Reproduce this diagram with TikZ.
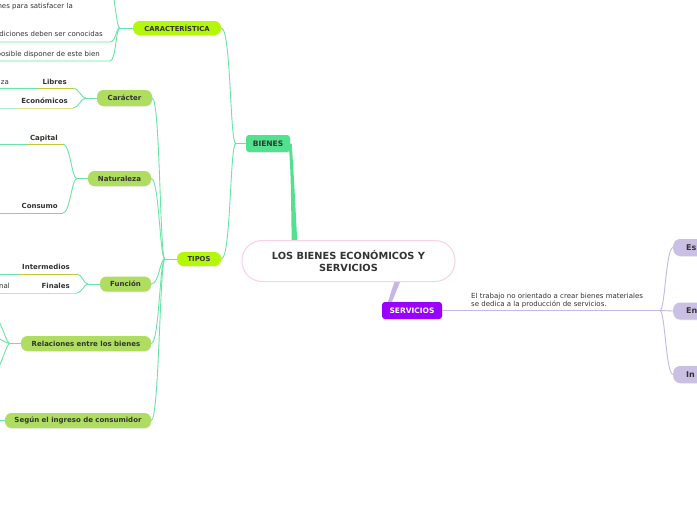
\documentclass[tikz,border=0pt]{standalone}
\usepackage{fontspec}
\setmainfont{DejaVu Sans}
\usetikzlibrary{calc,shadows}
\definecolor{txt}{HTML}{333333}
\definecolor{bgreen}{HTML}{52E28F}
\definecolor{lnk}{HTML}{6AE6A4}
\definecolor{lnklt}{HTML}{A8F0CC}
\definecolor{lime}{HTML}{B4F70A}
\definecolor{leaf}{HTML}{AEDD5F}
\definecolor{olive}{HTML}{C2C93A}
\definecolor{olivelt}{HTML}{D8E088}
\definecolor{purp}{HTML}{9A00FF}
\definecolor{lav}{HTML}{C6B8E6}
\definecolor{lavnode}{HTML}{C9C0E4}
\definecolor{pinkb}{HTML}{FAD0E3}
\tikzset{
  box/.style={rounded corners=4pt, inner sep=0pt, text=txt,
    font=\bfseries\fontsize{7}{8}\selectfont,
    drop shadow={opacity=0.12, shadow xshift=0.6pt, shadow yshift=-0.8pt}},
  pill/.style={box, rounded corners=6.5pt, fill=lime},
  leafbox/.style={box, rounded corners=6.5pt, fill=leaf},
  snode/.style={box, rounded corners=7pt, fill=lavnode, font=\bfseries\fontsize{8}{9}\selectfont},
  lbl/.style={inner sep=0pt, text=txt, font=\bfseries\fontsize{7}{8}\selectfont, anchor=base east},
  itm/.style={inner sep=0pt, text=txt, font=\fontsize{7}{7.9}\selectfont, anchor=base east},
  lnkline/.style={draw=lnk, line width=0.9pt},
  lnkltline/.style={draw=lnklt, line width=0.9pt},
  oline/.style={draw=olive, line width=0.9pt},
  oltline/.style={draw=olivelt, line width=0.9pt},
  lavline/.style={draw=lav, line width=0.9pt},
}
\begin{document}
\begin{tikzpicture}[x=1pt,y=-1pt]
\useasboundingbox (0,0) rectangle (697,520);
\fill[white] (0,0) rectangle (697,520);

% main nodes
\node[box, fill=bgreen, rounded corners=3pt, minimum width=44pt, minimum height=17pt, font=\bfseries\fontsize{7.5}{8}\selectfont] (bienes) at (268,143.5) {BIENES};
\node[box, fill=purp, text=white, rounded corners=3pt, minimum width=60pt, minimum height=17pt, font=\bfseries\fontsize{7.5}{8}\selectfont] (servicios) at (412,310.5) {SERVICIOS};

% thick connectors to title (drawn before the title)
\fill[bgreen] ($(bienes.east)+(-1.5,0)$) -- ($(bienes.east)+(1.5,0)$) .. controls ($(bienes.east)+(3.5,30)$) .. ($(bienes.east)+(7,97)$) -- ($(bienes.east)+(1.5,97)$) .. controls ($(bienes.east)+(0.5,30)$) .. cycle;
\fill[lav] ($(servicios.north)+(-24,0)$) -- ($(servicios.north)+(-20,0)$) -- ($(servicios.north)+(-11,-22)$) -- ($(servicios.north)+(-17,-22)$) -- cycle;

\node[draw=pinkb, line width=1pt, fill=white, rounded corners=20pt, minimum width=213pt, minimum height=41pt, inner sep=0pt, align=center, text=txt, font=\bfseries\fontsize{9.8}{12}\selectfont] (title) at (348.5,261) {LOS BIENES ECONÓMICOS Y\\SERVICIOS};

\node[pill, minimum width=88pt, minimum height=14pt, font=\bfseries\fontsize{6.8}{8}\selectfont] (caract) at (177,28) {CARACTERÍSTICA};
\node[pill, minimum width=44pt, minimum height=14pt, font=\bfseries\fontsize{6.8}{8}\selectfont] (tipos) at (199,259) {TIPOS};

\node[leafbox, minimum width=55pt, minimum height=16pt] (caracter) at (124.5,98) {Carácter};
\node[leafbox, minimum width=63pt, minimum height=15pt] (naturaleza) at (119.5,178.5) {Naturaleza};
\node[leafbox, minimum width=51pt, minimum height=15pt] (funcion) at (125.5,284) {Función};
\node[leafbox, minimum width=130pt, minimum height=15pt] (relaciones) at (86,343.5) {Relaciones entre los bienes};
\node[leafbox, minimum width=146pt, minimum height=15pt] (segun) at (78,420.5) {Según el ingreso de consumidor};

% BIENES branches
\coordinate (jB) at ($(bienes.west)+(-10,0)$);
\draw[lnkline] (bienes.west) -- (jB) .. controls +(-6,0) and +(10,0) .. (caract.east);
\draw[lnkline] (jB) .. controls +(-6,0) and +(10,0) .. (tipos.east);

% TIPOS branches
\coordinate (jT) at ($(tipos.west)+(-12,0)$);
\draw[lnkline] (tipos.west) -- (jT);
\foreach \n in {caracter,naturaleza,funcion,relaciones,segun}
  \draw[lnkline] (jT) .. controls +(-5,0) and +(8,0) .. (\n.east);

% CARACTERISTICA items
\coordinate (jC) at ($(caract.west)+(-13,0)$);
\coordinate (c1) at (108,-20);
\coordinate (c2) at (110,42);
\coordinate (c3) at (110,61);
\coordinate (c2e) at (-5,42);
\coordinate (c3e) at (-5,61);
\draw[lnkline] (caract.west) -- (jC);
\draw[lnkline] (jC) .. controls +(-4,0) and +(6,0) .. (c1);
\draw[lnkline] (jC) .. controls +(-4,0) and +(6,0) .. (c2) -- (c2e);
\draw[lnkline] (jC) .. controls +(-4,0) and +(6,0) .. (c3) -- (c3e);
\node[itm] (t1) at (73,8.8) {nes para satisfacer la};
\node[itm] (t2) at (103,36.5) {diciones deben ser conocidas};
\node[itm] (t3) at (100,56.5) {posible disponer de este bien};

% Caracter children
\coordinate (jCa) at ($(caracter.west)+(-11,0)$);
\coordinate (lb) at (73,88);
\coordinate (lbm) at (38,88);
\coordinate (lbe) at (-5,88);
\coordinate (ec) at (73,108);
\coordinate (ecm) at (17,108);
\coordinate (ece) at (-5,108);
\draw[lnkline] (caracter.west) -- (jCa);
\draw[lnkline] (jCa) .. controls +(-5,0) and +(6,0) .. (lb);
\draw[lnkline] (jCa) .. controls +(-5,0) and +(6,0) .. (ec);
\draw[oline] (lb) -- (lbm);
\draw[lnkline] (lbm) -- (lbe);
\draw[oltline] (ec) -- (ecm);
\draw[lnkltline] (ecm) -- (ece);
\node[lbl] (libres) at (67,84) {Libres};
\node[lbl] (econ) at (68,103.2) {Económicos};
\node[itm] (za) at (9,84) {za};

% Naturaleza children
\coordinate (jN) at ($(naturaleza.west)+(-11,0)$);
\coordinate (cp) at (63,144);
\coordinate (cpm) at (27,144);
\coordinate (cpe) at (-5,144);
\coordinate (cs) at (63,213);
\coordinate (csm) at (18,213);
\coordinate (cse) at (-5,213);
\draw[lnkline] (naturaleza.west) -- (jN);
\draw[lnkline] (jN) .. controls +(-5,0) and +(7,0) .. (cp);
\draw[lnkline] (jN) .. controls +(-5,0) and +(7,0) .. (cs);
\draw[oline] (cp) -- (cpm);
\draw[lnkline] (cpm) -- (cpe);
\draw[oline] (cs) -- (csm);
\draw[lnkline] (csm) -- (cse);
\node[lbl] (capital) at (58,140) {Capital};
\node[lbl] (consumo) at (58,208.5) {Consumo};

% Funcion children
\coordinate (jF) at ($(funcion.west)+(-12,0)$);
\coordinate (im) at (77,274);
\coordinate (imm) at (20,274);
\coordinate (ime) at (-5,274);
\coordinate (fi) at (77,293);
\coordinate (fim) at (40,293);
\coordinate (fie) at (-5,293);
\draw[lnkline] (funcion.west) -- (jF);
\draw[lnkline] (jF) .. controls +(-4,0) and +(5,0) .. (im);
\draw[lnkline] (jF) .. controls +(-4,0) and +(5,0) .. (fi);
\draw[oline] (im) -- (imm);
\draw[lnkline] (imm) -- (ime);
\draw[oltline] (fi) -- (fim);
\draw[lnkltline] (fim) -- (fie);
\node[lbl] (interm) at (70,269.5) {Intermedios};
\node[lbl] (finales) at (70,288.5) {Finales};
\node[itm] (nal) at (10,288.5) {nal};

% Relaciones children (off canvas)
\coordinate (jR) at ($(relaciones.west)+(-11,0)$);
\coordinate (r1) at (-5,318);
\coordinate (r2) at (-5,338);
\coordinate (r3) at (-5,370);
\draw[lnkline] (relaciones.west) -- (jR);
\draw[lnkline] (jR) .. controls +(-4,0) and +(6,0) .. (r1);
\draw[lnkline] (jR) .. controls +(-4,0) and +(6,0) .. (r2);
\draw[lnkline] (jR) .. controls +(-4,0) and +(6,0) .. (r3);

% Segun child
\coordinate (sg) at (-5,420.5);
\draw[lnkline] (segun.west) -- (sg);

% SERVICIOS
\coordinate (jS) at (660,310.5);
\draw[lavline] (servicios.east) -- (jS);
\node[inner sep=0pt, anchor=west, align=left, text=txt, font=\fontsize{7}{7.9}\selectfont] (desc) at (471,300.7) {El trabajo no orientado a crear bienes materiales\\se dedica a la producción de servicios.};
\node[snode, anchor=west, text width=40pt, inner xsep=13pt, minimum height=17pt, align=left] (es) at (673,247.5) {Es};
\node[snode, anchor=west, text width=40pt, inner xsep=13pt, minimum height=17pt, align=left] (en) at (673,311) {En};
\node[snode, anchor=west, text width=40pt, inner xsep=13pt, minimum height=17pt, align=left] (in) at (673,374.5) {In};
\draw[lavline] (jS) .. controls +(5,0) and +(-7,0) .. (es.west);
\draw[lavline] (jS) -- (en.west);
\draw[lavline] (jS) .. controls +(5,0) and +(-7,0) .. (in.west);
\end{tikzpicture}
\end{document}
